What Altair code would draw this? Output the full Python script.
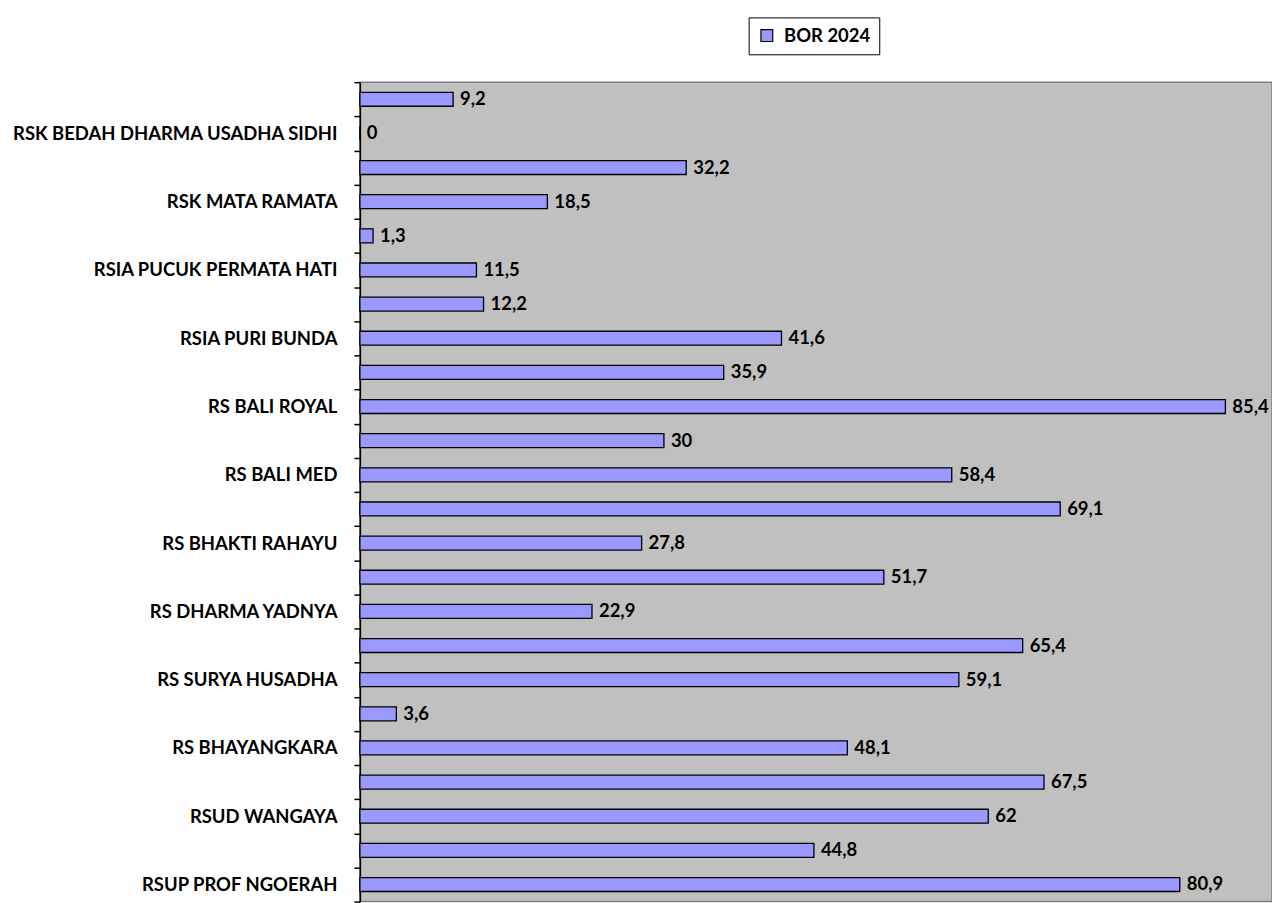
import altair as alt
import pandas as pd

# Categories from top to bottom (blank = label not shown in the reference)
labels = [
    "", "RSK BEDAH DHARMA USADHA SIDHI", "", "RSK MATA RAMATA", "",
    "RSIA PUCUK PERMATA HATI ", "", "RSIA PURI BUNDA", "", "RS BALI ROYAL ",
    "", "RS BALI MED", "", "RS BHAKTI RAHAYU", "", "RS DHARMA YADNYA", "",
    "RS SURYA HUSADHA", "", "RS BHAYANGKARA ", "", "RSUD WANGAYA", "",
    "RSUP PROF NGOERAH",
]
bor_2024 = [
    9.2, 0, 32.2, 18.5, 1.3, 11.5, 12.2, 41.6, 35.9, 85.4, 30, 58.4,
    69.1, 27.8, 51.7, 22.9, 65.4, 59.1, 3.6, 48.1, 67.5, 62, 44.8, 80.9,
]
series_name = "BOR 2024"

keys = [f"k{i:02d}" for i in range(len(labels))]
df = pd.DataFrame({"key": keys, "name": labels, "value": bor_2024, "series": series_name})

label_expr = "{" + ",".join(f"'{k}':'{n}'" for k, n in zip(keys, labels)) + "}[datum.value]"

FONT = "Lato"
FS = 18.5

y_enc = alt.Y(
    "key:N",
    sort=keys,
    scale=alt.Scale(paddingInner=0, paddingOuter=0),
    axis=alt.Axis(
        title=None,
        labelExpr=label_expr,
        labelLimit=0,
        tickBand="extent",
        tickColor="black",
        tickSize=6,
        tickWidth=1.5,
        domainColor="black",
        domainWidth=1.5,
        labelFont=FONT,
        labelFontWeight="bold",
        labelFontSize=FS,
        labelColor="black",
        labelPadding=17,
        grid=False,
    ),
)
x_enc = alt.X(
    "value:Q",
    scale=alt.Scale(domain=[0, 90], nice=False),
    axis=None,
)

bars = alt.Chart(df).mark_bar(
    size=14, stroke="black", strokeWidth=1.3
).encode(
    y=y_enc,
    x=x_enc,
    color=alt.Color(
        "series:N",
        scale=alt.Scale(range=["#9999FF"]),
        legend=alt.Legend(
            title=None,
            orient="none",
            legendX=390,
            legendY=-65,
            strokeColor="black",
            fillColor="white",
            padding=9,
            symbolType="square",
            symbolSize=140,
            symbolStrokeColor="black",
            symbolStrokeWidth=1.2,
            labelOffset=8,
            labelFont=FONT,
            labelFontWeight="bold",
            labelFontSize=FS,
            labelColor="black",
        ),
    ),
)

text = alt.Chart(df).mark_text(
    align="left", baseline="middle", dx=7, font=FONT, fontWeight="bold", fontSize=FS, color="black"
).transform_calculate(
    lbl="replace(format(datum.value, '.1~f'), '.', ',')"
).encode(
    y=alt.Y("key:N", sort=keys),
    x=alt.X("value:Q"),
    text="lbl:N",
)

chart = (bars + text).properties(
    width=915,
    height=822,
    padding={"left": 353, "top": 73, "right": 0, "bottom": 0},
    autosize=alt.AutoSizeParams(type="none"),
    background="white",
).configure_view(
    fill="#C0C0C0",
    stroke="#808080",
    strokeWidth=1.5,
)

chart.save("out.html", embed_options={"renderer": "svg", "actions": False})
